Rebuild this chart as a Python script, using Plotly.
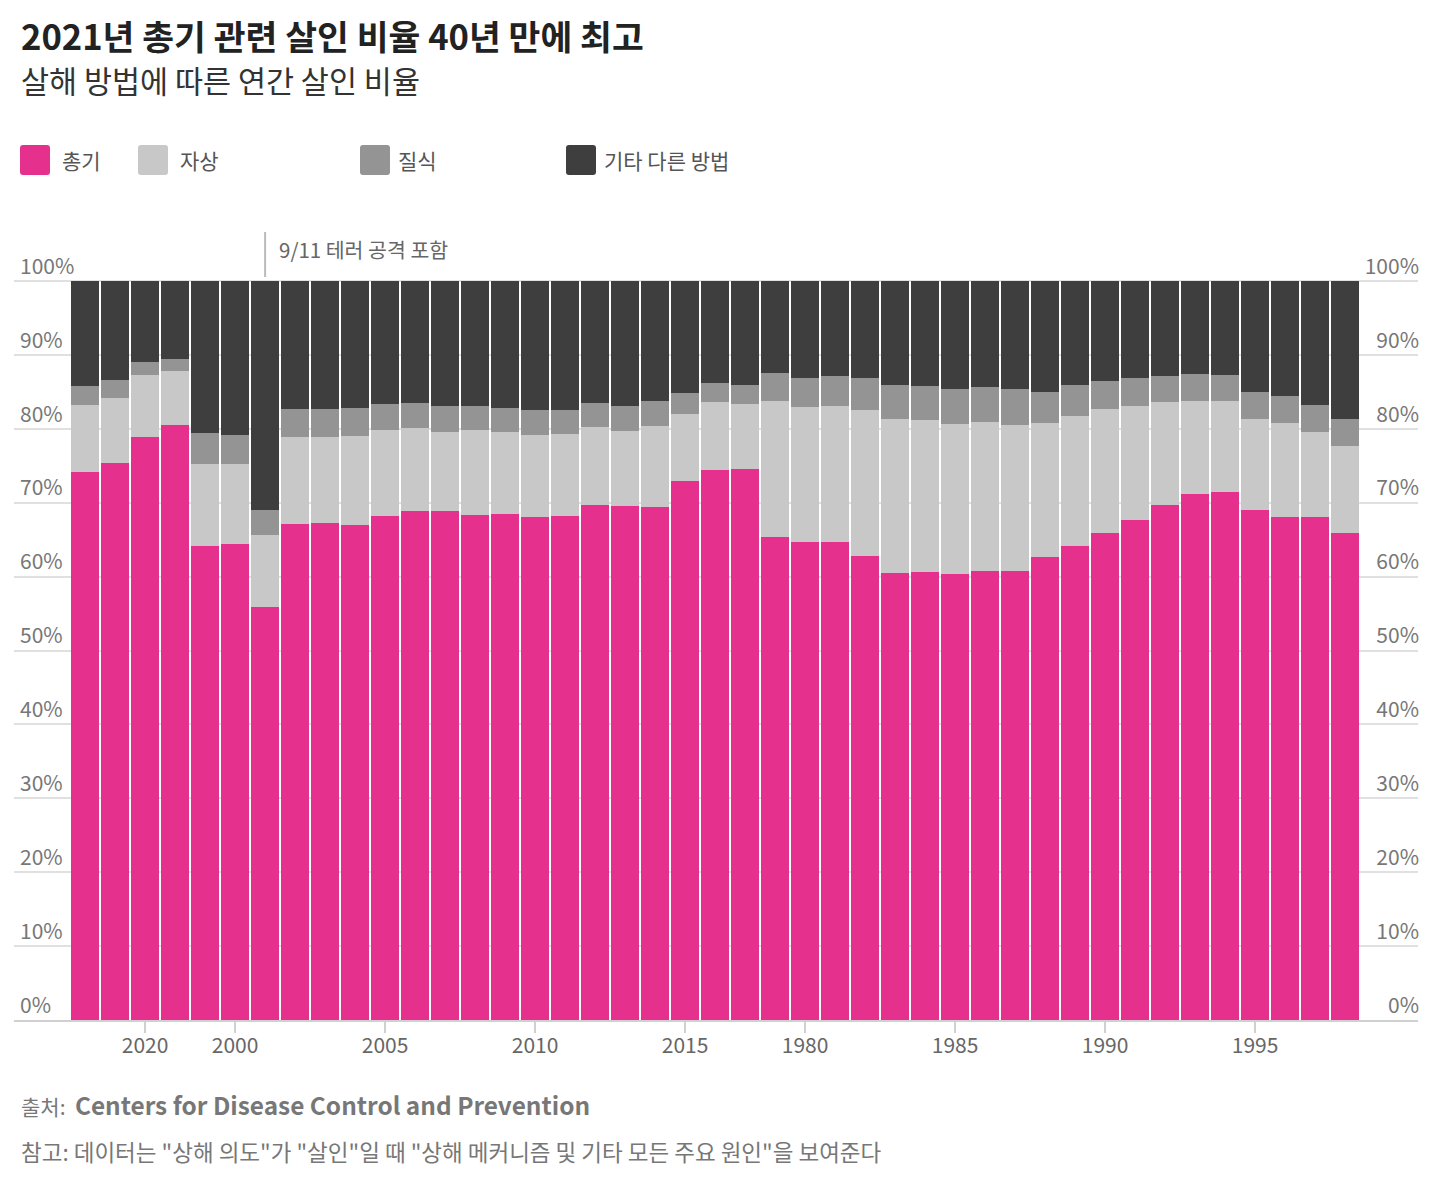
import plotly.graph_objects as go

# category order as it appears in the source chart (left to right)
years = ["2018", "2019", "2020", "2021",
         "1999", "2000", "2001", "2002", "2003", "2004", "2005", "2006",
         "2007", "2008", "2009", "2010", "2011", "2012", "2013", "2014",
         "2015", "2016", "2017",
         "1979", "1980", "1981", "1982", "1983", "1984", "1985", "1986",
         "1987", "1988", "1989", "1990", "1991", "1992", "1993", "1994",
         "1995", "1996", "1997", "1998"]
tick_years = ["2020", "2000", "2005", "2010", "2015", "1980", "1985", "1990", "1995"]
pct_ticks = [0, 10, 20, 30, 40, 50, 60, 70, 80, 90, 100]
pct_labels = ["0%", "10%", "20%", "30%", "40%", "50%", "60%", "70%", "80%", "90%", "100%"]

gun = [74.2, 75.4, 78.9, 80.5,
       64.1, 64.4, 55.9, 67.1, 67.3, 67.0, 68.2, 68.9, 68.9, 68.3, 68.5,
       68.1, 68.2, 69.7, 69.6, 69.4, 72.9, 74.4, 74.6,
       65.4, 64.7, 64.7, 62.8, 60.5, 60.6, 60.4, 60.8, 60.8, 62.7, 64.1,
       65.9, 67.7, 69.7, 71.2, 71.5, 69.0, 68.1, 68.1, 65.9]
cut = [9.0, 8.8, 8.4, 7.3,
       11.1, 10.8, 9.7, 11.8, 11.6, 12.0, 11.6, 11.2, 10.7, 11.5, 11.1,
       11.1, 11.1, 10.5, 10.1, 11.0, 9.1, 9.2, 8.8,
       18.4, 18.3, 18.4, 19.7, 20.8, 20.6, 20.3, 20.1, 19.7, 18.1, 17.6,
       16.8, 15.4, 13.9, 12.6, 12.3, 12.3, 12.7, 11.5, 11.8]
suffocation = [2.6, 2.4, 1.7, 1.7,
               4.2, 4.0, 3.4, 3.8, 3.8, 3.8, 3.6, 3.4, 3.5, 3.3, 3.2,
               3.3, 3.2, 3.3, 3.4, 3.4, 2.8, 2.6, 2.5,
               3.8, 3.9, 4.0, 4.4, 4.6, 4.6, 4.7, 4.8, 4.9, 4.2, 4.2,
               3.8, 3.8, 3.5, 3.6, 3.5, 3.7, 3.6, 3.6, 3.6]
other = [14.2, 13.4, 11.0, 10.5,
         20.6, 20.8, 31.0, 17.3, 17.3, 17.2, 16.6, 16.5, 16.9, 16.9, 17.2,
         17.5, 17.5, 16.5, 16.9, 16.2, 15.2, 13.8, 14.1,
         12.4, 13.1, 12.9, 13.1, 14.1, 14.2, 14.6, 14.3, 14.6, 15.0, 14.1,
         13.5, 13.1, 12.9, 12.6, 12.7, 15.0, 15.6, 16.8, 18.7]

names = ["총기", "자상", "질식", "기타 다른 방법"]
colors = ["#e5308e", "#c8c8c8", "#949494", "#3e3e3e"]

FONT = "Noto Sans CJK KR"
OFF = 8  # page margin around the plotly div
W, H = 1432 - OFF, 1186 - OFF
L, R, B = 6, 14, 166
YTOP = 108  # headroom so the 100% labels fit inside the plot area
T = round((H - B) - YTOP * 7.39)


def px(x):
    # page pixel x -> paper x
    return (x - OFF - L) / (W - L - R)


def py(y):
    # page pixel y -> paper y
    return (H - B - (y - OFF)) / (H - T - B)


fig = go.Figure()
for name, vals, color in zip(names, [gun, cut, suffocation, other], colors):
    fig.add_trace(go.Bar(x=years, y=vals, name=name, marker_color=color,
                         marker_line_width=0, showlegend=False))

# empty trace so the right-hand axis gets drawn
fig.add_trace(go.Scatter(x=[], y=[], yaxis="y2", showlegend=False))

fig.update_layout(
    width=W, height=H,
    margin=dict(l=L, r=R, t=T, b=B),
    barmode="stack", bargap=2 / 30,
    plot_bgcolor="white", paper_bgcolor="white",
    font=dict(family=FONT, color="#666"),
    hovermode=False,
    xaxis=dict(type="category", categoryorder="array", categoryarray=years,
               range=[-2.37, 44.43], tickvals=tick_years,
               ticks="outside", ticklen=11, tickwidth=2, tickcolor="#d0d0d0",
               showline=True, linecolor="#d0d0d0", linewidth=2,
               showgrid=False, ticklabelstandoff=-5,
               tickfont=dict(size=21, color="#666")),
    yaxis=dict(range=[0, YTOP], tickvals=pct_ticks, ticktext=pct_labels,
               showgrid=True, gridcolor="#e0e0e0", gridwidth=2,
               zeroline=False, ticklabelposition="inside top",
               ticklabelstandoff=3,
               tickfont=dict(size=21, color="#777")),
    yaxis2=dict(range=[0, YTOP], tickvals=pct_ticks, ticktext=pct_labels,
                overlaying="y", side="right", showgrid=False,
                zeroline=False, ticklabelposition="inside top",
                ticklabelstandoff=-4,
                tickfont=dict(size=21, color="#777")),
)

# legend drawn by hand: rounded squares + labels
legend_x = [35, 153, 375, 581]
text_x = [62, 180, 398, 604]
sq = "M-15,-12 Q-15,-15 -12,-15 L12,-15 Q15,-15 15,-12 L15,12 Q15,15 12,15 L-12,15 Q-15,15 -15,12 Z"
for cx, tx, name, color in zip(legend_x, text_x, names, colors):
    fig.add_shape(type="path", xref="paper", yref="paper",
                  xsizemode="pixel", ysizemode="pixel",
                  xanchor=px(cx), yanchor=py(160), path=sq,
                  fillcolor=color, line_width=0)
    fig.add_annotation(x=px(tx - 2), y=py(160), xref="paper", yref="paper",
                       text=name, showarrow=False, xanchor="left",
                       yanchor="middle", font=dict(size=21, color="#555"))

# 9/11 marker
fig.add_shape(type="line", xref="x", yref="paper", x0=6, x1=6,
              y0=py(277), y1=py(232), line=dict(color="#bbbbbb", width=2))
fig.add_annotation(x=px(277), y=py(249), xref="paper", yref="paper",
                   text="9/11 테러 공격 포함", showarrow=False, xanchor="left",
                   yanchor="middle", font=dict(size=20.5, color="#666"))

# titles and footer
fig.add_annotation(x=px(19), y=py(35), xref="paper", yref="paper",
                   text="<b>2021년 총기 관련 살인 비율 40년 만에 최고</b>",
                   showarrow=False, xanchor="left", yanchor="middle",
                   font=dict(size=34.6, color="#222"))
fig.add_annotation(x=px(19), y=py(80), xref="paper", yref="paper",
                   text="살해 방법에 따른 연간 살인 비율",
                   showarrow=False, xanchor="left", yanchor="middle",
                   font=dict(size=30.5, color="#333"))
fig.add_annotation(x=px(19), y=py(1104), xref="paper", yref="paper",
                   text="출처:&nbsp; <b><span style='font-size:24.4px'>Centers for Disease Control and Prevention</span></b>",
                   showarrow=False, xanchor="left", yanchor="middle",
                   font=dict(size=21, color="#777"))
fig.add_annotation(x=px(19), y=py(1151), xref="paper", yref="paper",
                   text='참고: 데이터는 "상해 의도"가 "살인"일 때 "상해 메커니즘 및 기타 모든 주요 원인"을 보여준다',
                   showarrow=False, xanchor="left", yanchor="middle",
                   font=dict(size=22.5, color="#777"))

fig.write_html("out.html")
